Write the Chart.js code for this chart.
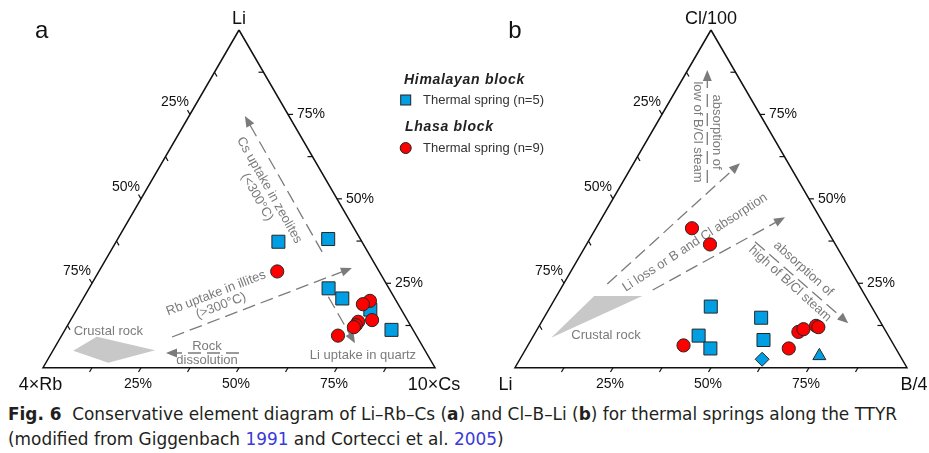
<!DOCTYPE html>
<html>
<head>
<meta charset="utf-8">
<script src="https://cdn.jsdelivr.net/npm/chart.js@4.4.0/dist/chart.umd.min.js"></script>
<style>
  body { margin: 0; background: #fff; width: 929px; height: 453px; overflow: hidden; position: relative; }
  #fig { position: absolute; left: 0; top: 0; }
  .cap { position: absolute; left: 8px; white-space: nowrap; line-height: 19px;
         font-family: 'Liberation Sans Narrow', 'DejaVu Sans Condensed', 'Liberation Sans', sans-serif;
         font-size: 18.5px; color: #231f20; transform-origin: 0 0; }
  .blue { color: #3a3ad8; }
</style>
</head>
<body>
<canvas id="fig" width="929" height="395"></canvas>
<div class="cap" id="cap1" style="top:403.5px"><b>Fig. 6</b>&nbsp; Conservative element diagram of Li–Rb–Cs (<b>a</b>) and Cl–B–Li (<b>b</b>) for thermal springs along the TTYR</div>
<div class="cap" id="cap2" style="top:428.5px">(modified from Giggenbach <span class="blue">1991</span> and Cortecci et al. <span class="blue">2005</span>)</div>
<script>
// panel a : Li (top) - 4xRb (left) - 10xCs (right), in %
const himA_Li = [37.3, 38.1, 23.5, 20.5, 17.2, 11.2];
const himA_Rb = [21.3,  8.2, 15.4, 13.4,  7.9,  5.5];
const himA_Cs = [41.4, 53.7, 61.1, 66.1, 74.9, 83.3];

const lhaA_Li = [28.5, 19.8, 18.8, 14.1, 13.6, 12.6, 12.0,  9.5];
const lhaA_Rb = [26.0,  6.7,  9.0,  9.0, 12.8, 13.9, 14.7, 20.0];
const lhaA_Cs = [45.5, 73.5, 72.2, 76.9, 73.6, 73.5, 73.3, 70.5];

const crustA_Li = [ 5.0,  9.2,  5.2,  1.5];
const crustA_Rb = [89.8, 81.7, 68.8, 82.6];
const crustA_Cs = [ 5.2,  9.1, 26.0, 15.9];

// panel b : Cl/100 (top) - Li (left) - B/4 (right), in %
const himB_Cl = [18.1, 14.8,  9.5,  5.7,  8.2];
const himB_Li = [41.0, 29.8, 48.4, 47.3, 32.5];
const himB_B  = [40.9, 55.4, 42.1, 47.0, 59.3];
const himB2_Cl = [2.5], himB2_Li = [35.7], himB2_B = [61.8];   // diamond
const himB3_Cl = [3.5], himB3_Li = [20.6], himB3_B = [75.9];   // triangle

const lhaB_Cl = [41.3, 36.5,  6.6,  5.7, 10.6, 11.4, 12.4, 12.0];
const lhaB_Li = [34.2, 32.0, 53.7, 27.3, 22.4, 20.7, 17.0, 16.6];
const lhaB_B  = [24.5, 31.5, 39.7, 67.0, 67.0, 67.9, 70.6, 71.4];

const crustB_Cl = [ 8.9, 21.2, 21.2];
const crustB_Li = [86.3, 69.2, 56.9];
const crustB_B  = [ 4.8,  9.6, 21.9];

const tickValues = [25, 50, 75];
const tickLabels = ['25%', '50%', '75%'];
const cornerLabels = [['Li', '4×Rb', '10×Cs'], ['Cl/100', 'Li', 'B/4']];

const H = Math.sqrt(3) / 2;
const panelOffset = [0, 1.204];

function tern(top, left, right, p) {
  const s = top + left + right;
  return { x: panelOffset[p] + (right + top / 2) / s, y: H * top / s };
}
function series(top, left, right, p) {
  return top.map((t, i) => tern(t, left[i], right[i], p));
}
function frame(p) {
  return [tern(100, 0, 0, p), tern(0, 100, 0, p), tern(0, 0, 100, p), tern(100, 0, 0, p)];
}

// annotations in scale units
const gray = '#7b7b7b';
const arrows = [
  [0.712, 0.297, 0.515, 0.6455],
  [0.329, 0.0787, 0.788, 0.2557],
  [0.7278, 0.182, 0.7959, 0.0626],
  [0.5, 0.0377, 0.3138, 0.0377],
  [1.6946, 0.4736, 1.6946, 0.7634],
  [1.4395, 0.2146, 1.778, 0.5242],
  [1.5554, 0.1993, 1.8929, 0.3857],
  [1.8163, 0.3231, 2.0543, 0.1139]
];
const notes = [
  { x: 0.5617, y: 0.4462, a: 60.5, lines: ['Cs uptake in zeolites', '(<300°C)'], sp: 14 },
  { x: 0.4477, y: 0.1749, a: -21, lines: ['Rb uptake in illites', '(>300°C)'], sp: 13.5 },
  { x: 0.8163, y: 0.0326, a: 0, lines: ['Li uptake in quartz'], sp: 14 },
  { x: 0.1666, y: 0.0941, a: 0, lines: ['Crustal rock'], sp: 14 },
  { x: 0.4184, y: 0.0377, a: 0, lines: ['Rock', 'dissolution'], sp: 14 },
  { x: 1.6952, y: 0.6044, a: 90, lines: ['absorption of', 'low of B/Cl steam'], sp: 19 },
  { x: 1.6633, y: 0.3211, a: -33, lines: ['Li loss or B and Cl absorption'], sp: 14 },
  { x: 1.9228, y: 0.2345, a: 42, lines: ['absorption of', 'high of B/Cl steam'], sp: 20 },
  { x: 1.4362, y: 0.0839, a: 0, lines: ['Crustal rock'], sp: 14 }
];

function dashedArrow(ctx, x1, y1, x2, y2) {
  const ang = Math.atan2(y2 - y1, x2 - x1);
  const c = Math.cos(ang), s = Math.sin(ang);
  ctx.save();
  ctx.strokeStyle = gray; ctx.fillStyle = gray; ctx.lineWidth = 1.3;
  ctx.setLineDash([13, 6]);
  ctx.beginPath(); ctx.moveTo(x1, y1); ctx.lineTo(x2 - c * 8, y2 - s * 8); ctx.stroke();
  ctx.setLineDash([]);
  ctx.beginPath();
  ctx.moveTo(x2, y2);
  ctx.lineTo(x2 - c * 11 - s * 4.5, y2 - s * 11 + c * 4.5);
  ctx.lineTo(x2 - c * 11 + s * 4.5, y2 - s * 11 - c * 4.5);
  ctx.closePath(); ctx.fill();
  ctx.restore();
}

const ternaryPlugin = {
  id: 'ternary',
  beforeDatasetsDraw(chart) {
    const ctx = chart.ctx, xs = chart.scales.x, ys = chart.scales.y;
    arrows.forEach(a => dashedArrow(ctx, xs.getPixelForValue(a[0]), ys.getPixelForValue(a[1]),
                                         xs.getPixelForValue(a[2]), ys.getPixelForValue(a[3])));
    ctx.save();
    ctx.fillStyle = gray;
    ctx.font = '13px "Liberation Sans", Arial, sans-serif';
    ctx.textAlign = 'center'; ctx.textBaseline = 'middle';
    notes.forEach(n => {
      ctx.save();
      ctx.translate(xs.getPixelForValue(n.x), ys.getPixelForValue(n.y));
      ctx.rotate(n.a * Math.PI / 180);
      const k = n.lines.length;
      n.lines.forEach((t, i) => ctx.fillText(t, 0, (i - (k - 1) / 2) * n.sp));
      ctx.restore();
    });
    ctx.restore();
  },
  afterDraw(chart) {
    const ctx = chart.ctx, xs = chart.scales.x, ys = chart.scales.y;
    const px = pt => ({ x: xs.getPixelForValue(pt.x), y: ys.getPixelForValue(pt.y) });
    ctx.save();
    ctx.strokeStyle = '#111'; ctx.fillStyle = '#111'; ctx.lineWidth = 1.2;
    [0, 1].forEach(p => {
      const T = px(tern(100, 0, 0, p)), L = px(tern(0, 100, 0, p)), R = px(tern(0, 0, 100, p));
      const lerp = (A, B, f) => ({ x: A.x + (B.x - A.x) * f, y: A.y + (B.y - A.y) * f });
      const tick = (P, dx, dy) => {
        ctx.beginPath(); ctx.moveTo(P.x, P.y); ctx.lineTo(P.x + dx * 5, P.y + dy * 5); ctx.stroke();
      };
      for (let i = 1; i < 8; i++) {
        const f = i / 8, major = i % 2 === 0;
        tick(lerp(L, R, f), -0.5, 0.866);
        tick(lerp(R, T, f), major ? 1 : -1, 0);
        tick(lerp(T, L, f), major ? -0.5 : 0.5, major ? -0.866 : 0.866);
      }
      ctx.font = '14px "Liberation Sans", Arial, sans-serif';
      tickValues.forEach((v, i) => {
        const f = v / 100;
        let P = lerp(L, R, f);
        ctx.textAlign = 'center'; ctx.textBaseline = 'alphabetic';
        ctx.fillText(tickLabels[i], P.x - 3, P.y + 20);
        P = lerp(R, T, f);
        ctx.textAlign = 'left'; ctx.textBaseline = 'middle';
        ctx.fillText(tickLabels[i], P.x + 9, P.y);
        P = lerp(T, L, f);
        ctx.textAlign = 'right'; ctx.textBaseline = 'alphabetic';
        ctx.fillText(tickLabels[i], P.x - 1, P.y - 8);
      });
      ctx.font = '18px "Liberation Sans", Arial, sans-serif';
      ctx.textAlign = 'center'; ctx.textBaseline = 'alphabetic';
      const lb = cornerLabels[p];
      ctx.fillText(lb[0], T.x, T.y - 6);
      ctx.fillText(lb[1], L.x + (p ? -9.5 : -2.5), L.y + 22);
      ctx.fillText(lb[2], R.x + (p ? 7 : -1), R.y + 22);
    });
    // panel letters
    ctx.font = '24px "Liberation Sans", Arial, sans-serif';
    ctx.textAlign = 'center';
    ctx.fillText('a', 41.7, 38.3);
    ctx.fillText('b', 515, 38.3);
    // legend
    ctx.textAlign = 'left';
    ctx.fillStyle = '#222';
    ctx.font = 'italic bold 14px "Liberation Sans", Arial, sans-serif';
    ctx.letterSpacing = '0.7px';
    ctx.fillText('Himalayan block', 404, 84);
    ctx.fillText('Lhasa block', 405, 130.5);
    ctx.letterSpacing = '0px';
    ctx.font = '13px "Liberation Sans", Arial, sans-serif';
    ctx.fillStyle = '#333';
    ctx.textBaseline = 'middle';
    ctx.fillText('Thermal spring (n=5)', 423, 100.5);
    ctx.fillText('Thermal spring (n=9)', 423, 148.5);
    ctx.lineWidth = 1;
    ctx.strokeStyle = '#222';
    ctx.fillStyle = '#009fe3';
    ctx.fillRect(400.7, 95, 10, 10); ctx.strokeRect(400.7, 95, 10, 10);
    ctx.fillStyle = '#ff0000';
    ctx.beginPath(); ctx.arc(405.7, 148, 5.5, 0, Math.PI * 2); ctx.fill(); ctx.stroke();
    ctx.restore();
  }
};

const blue = '#009fe3', red = '#ff0000', edge = '#262626';
const markers = (data, style, r, fill) => ({
  data, pointStyle: style, pointRadius: r, pointHoverRadius: r,
  backgroundColor: fill, borderColor: edge, borderWidth: 1, clip: false
});
const area = data => ({
  data: data.concat([data[0]]), showLine: true, fill: 'shape', pointRadius: 0,
  borderWidth: 0, backgroundColor: '#c8c8c8', borderColor: '#c8c8c8', clip: false
});
const outline = data => ({
  data, showLine: true, pointRadius: 0, borderWidth: 1.5, borderColor: '#111', tension: 0, clip: false
});

new Chart(document.getElementById('fig').getContext('2d'), {
  type: 'scatter',
  data: {
    datasets: [
      markers(series(lhaA_Li, lhaA_Rb, lhaA_Cs, 0), 'circle', 6.6, red),
      markers(series(lhaB_Cl, lhaB_Li, lhaB_B, 1), 'circle', 6.6, red),
      markers(series(himA_Li, himA_Rb, himA_Cs, 0), 'rect', 9.2, blue),
      markers(series(himB_Cl, himB_Li, himB_B, 1), 'rect', 9.2, blue),
      markers(series(himB2_Cl, himB2_Li, himB2_B, 1), 'rectRot', 7, blue),
      markers(series(himB3_Cl, himB3_Li, himB3_B, 1), 'triangle', 7.5, blue),
      area(series(crustA_Li, crustA_Rb, crustA_Cs, 0)),
      area(series(crustB_Cl, crustB_Li, crustB_B, 1)),
      outline(frame(0)),
      outline(frame(1))
    ]
  },
  options: {
    responsive: false,
    animation: false,
    layout: { padding: { left: 43, right: 22.3, top: 30, bottom: 27.3 } },
    scales: {
      x: { type: 'linear', min: 0, max: 2.2033, display: false },
      y: { type: 'linear', min: 0, max: H, display: false }
    },
    plugins: { legend: { display: false }, tooltip: { enabled: false } }
  },
  plugins: [ternaryPlugin]
});

// fit caption width to the reference
const c1 = document.getElementById('cap1'), c2 = document.getElementById('cap2');
const k = 889 / c1.getBoundingClientRect().width;
c1.style.transform = c2.style.transform = 'scaleX(' + k + ')';
</script>
</body>
</html>
